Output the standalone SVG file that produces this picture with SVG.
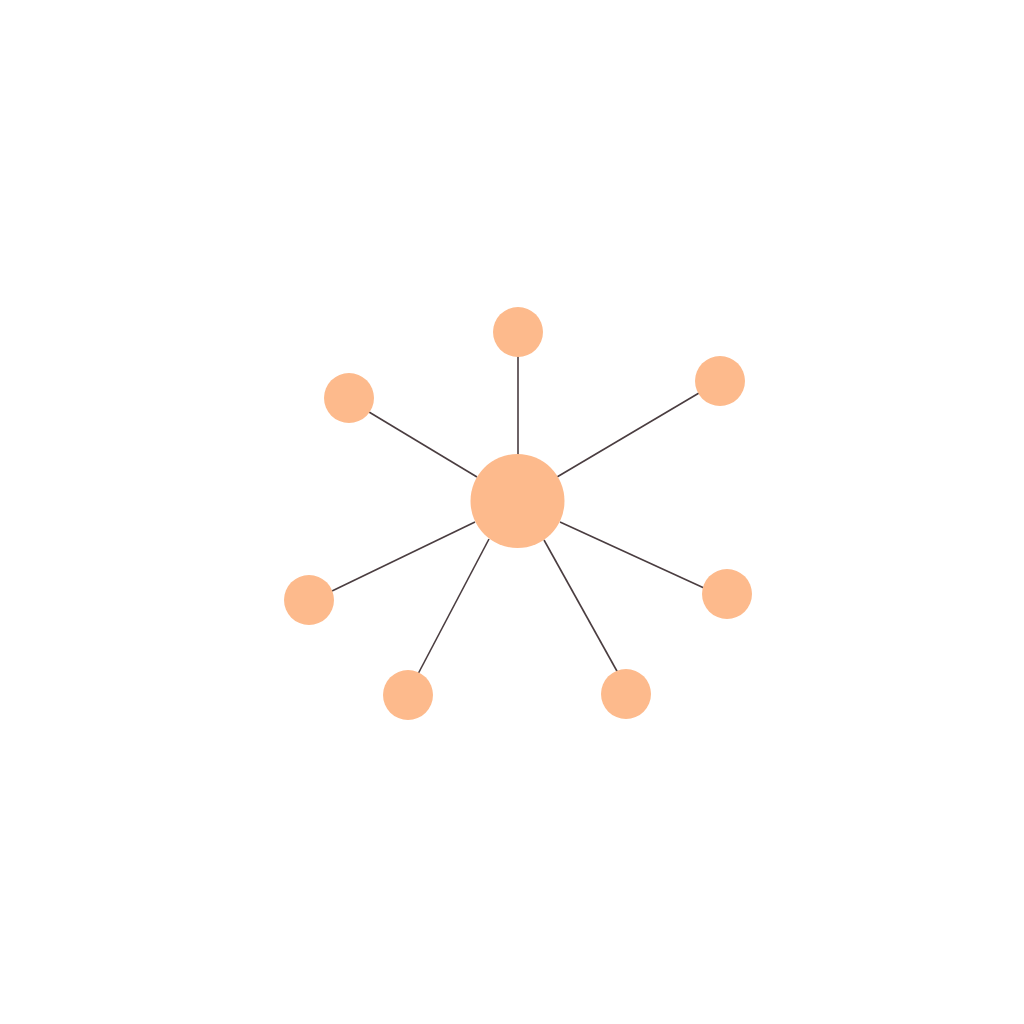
<svg xmlns="http://www.w3.org/2000/svg" width="1024" height="1024" viewBox="0 0 1024 1024">
<style>
.node{fill:#FDBA8C}
.edge{stroke:#4A3D40;stroke-width:1.6;fill:none}
</style>
<rect width="1024" height="1024" fill="#FFFFFF"/>
<g id="connectors">
<line class="edge" x1="518" y1="455" x2="518" y2="356"/>
<line class="edge" x1="477" y1="477" x2="369" y2="412"/>
<line class="edge" x1="557" y1="477" x2="699" y2="393"/>
<line class="edge" x1="475" y1="522" x2="332" y2="591"/>
<line class="edge" x1="560" y1="522" x2="704" y2="588"/>
<line class="edge" x1="489" y1="539" x2="418" y2="674"/>
<line class="edge" x1="544" y1="540" x2="618" y2="673"/>
</g>
<g id="center"><circle class="node" cx="517.5" cy="501" r="47"/></g>
<g id="n1"><circle class="node" cx="518" cy="332" r="25"/></g>
<g id="n2"><circle class="node" cx="349" cy="398" r="25"/></g>
<g id="n3"><circle class="node" cx="720" cy="381" r="25"/></g>
<g id="n4"><circle class="node" cx="309" cy="600" r="25"/></g>
<g id="n5"><circle class="node" cx="727" cy="594" r="25"/></g>
<g id="n6"><circle class="node" cx="408" cy="695" r="25"/></g>
<g id="n7"><circle class="node" cx="626" cy="694" r="25"/></g>
</svg>
